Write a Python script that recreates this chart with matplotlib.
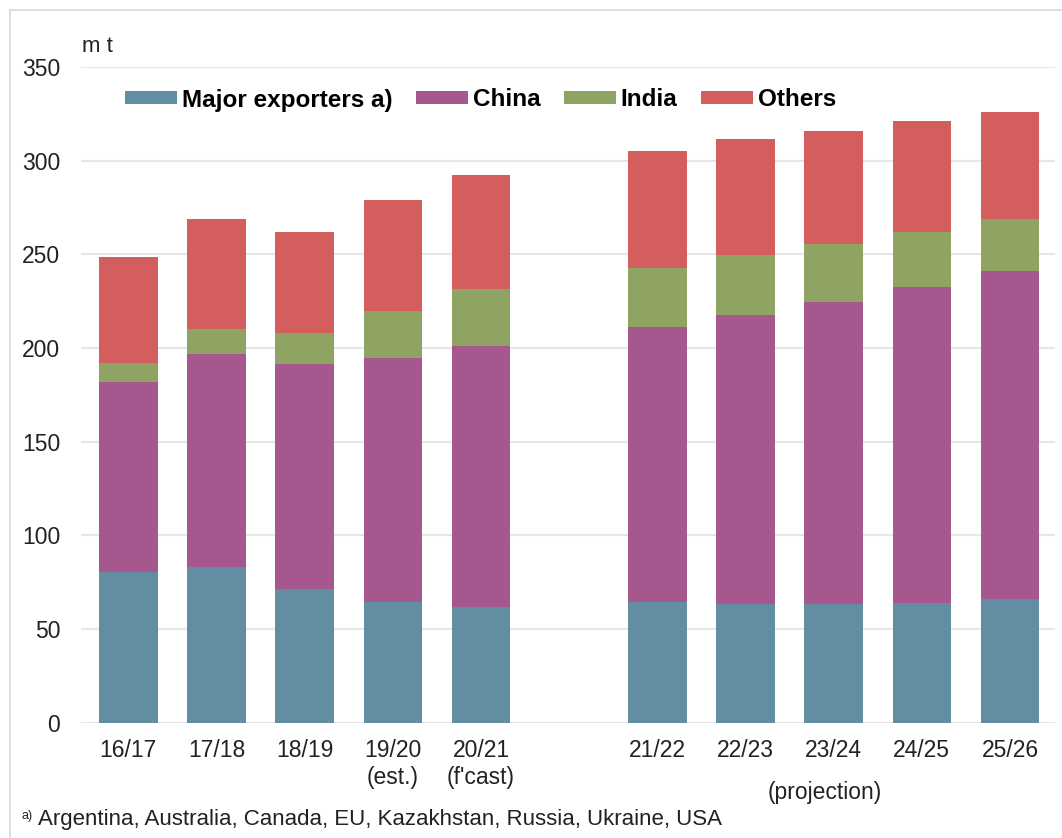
import matplotlib
matplotlib.use("Agg")
import matplotlib.pyplot as plt
from matplotlib.lines import Line2D
from matplotlib.patches import Patch
import numpy as np

plt.rcParams['font.family'] = ['Liberation Sans', 'DejaVu Sans']

# ---- data ----
seasons = ["16/17", "17/18", "18/19", "19/20\n(est.)", "20/21\n(f'cast)",
           "21/22", "22/23", "23/24", "24/25", "25/26"]
major_exporters = [80.4, 82.9, 71.2, 64.6, 61.6, 64.4, 63.2, 63.5, 64.1, 66.0]
china = [101.3, 113.7, 120.1, 130.2, 139.5, 147.0, 154.4, 160.9, 168.5, 175.3]
india = [10.1, 13.4, 16.9, 24.8, 30.2, 31.5, 31.9, 31.1, 29.3, 27.4]
others = [56.6, 58.7, 53.9, 59.6, 61.1, 62.3, 62.1, 60.5, 59.3, 57.1]
series_names = ["Major exporters a)", "China", "India", "Others"]
yticks = [0, 50, 100, 150, 200, 250, 300, 350]
footnote = "Argentina, Australia, Canada, EU, Kazakhstan, Russia, Ukraine, USA"

colors = ["#628EA4", "#A5578E", "#8FA462", "#D45D5E"]

W, H = 1062, 838
fig = plt.figure(figsize=(W / 100, H / 100), dpi=100)
ax = fig.add_axes([81 / W, 1 - 722.7 / H, (1055 - 81) / W, (722.7 - 67) / H])

x = np.array([0, 1, 2, 3, 4, 6, 7, 8, 9, 10], dtype=float)
bottom = np.zeros(len(x))
for vals, c in zip([major_exporters, china, india, others], colors):
    ax.bar(x, vals, width=0.665, bottom=bottom, color=c, edgecolor='none', zorder=3)
    bottom += np.array(vals)

ax.set_xlim(-0.537, 10.51)
ax.set_ylim(0, 350)
ax.set_yticks(yticks)
ax.set_yticklabels([str(v) for v in yticks])
ax.set_xticks(x)
ax.set_xticklabels(seasons, linespacing=1.2)
ax.tick_params(axis='both', length=0, labelsize=16.5, colors='#222222')
ax.tick_params(axis='y', pad=15)
ax.tick_params(axis='x', pad=12)
ax.grid(axis='y', color='#e6e6e6', linewidth=1.5, zorder=0)
for s in ax.spines.values():
    s.set_visible(False)

ax.text(7.9, -37, "(projection)", ha='center', va='center', fontsize=16.5,
        color='#222222', transform=ax.transData, clip_on=False)

fig.text(82 / W, 1 - 46 / H, "m t", ha='left', va='center', fontsize=16, color='#222222')

handles = [Patch(facecolor=c, edgecolor='none') for c in colors]
leg = fig.legend(handles, series_names, ncol=4, loc='center left',
                 bbox_to_anchor=(125 / W, 1 - 100 / H), frameon=False,
                 prop={'weight': 'bold', 'size': 17.5},
                 handlelength=2.15, handleheight=0.45, handletextpad=0.2,
                 columnspacing=0.95, borderaxespad=0, borderpad=0)

fig.text(22 / W, 1 - 816 / H, "a)", ha='left', va='center', fontsize=9, color='#222222')
fig.text(38 / W, 1 - 819 / H, footnote, ha='left', va='center', fontsize=16, color='#222222')

# light border of chart area
fig.add_artist(Line2D([10 / W, 1], [1 - 10 / H, 1 - 10 / H], color='#d9d9d9', lw=1.2,
                      transform=fig.transFigure))
fig.add_artist(Line2D([10 / W, 10 / W], [0, 1 - 10 / H], color='#d9d9d9', lw=1.2,
                      transform=fig.transFigure))

fig.savefig("out.png", dpi=100, facecolor='white')
